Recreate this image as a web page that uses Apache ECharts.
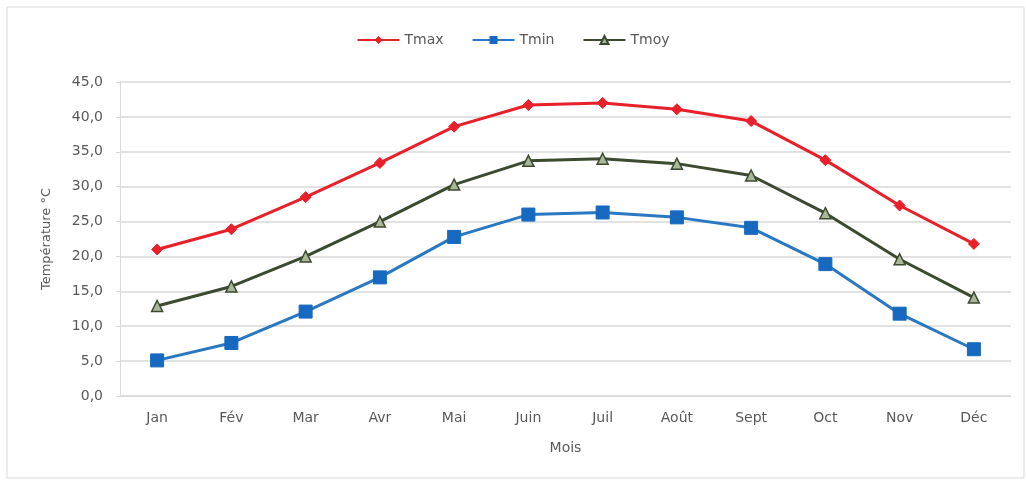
<!DOCTYPE html>
<html>
<head>
<meta charset="utf-8">
<script src="https://cdn.jsdelivr.net/npm/echarts@6/dist/echarts.min.js"></script>
<style>
  html, body { margin: 0; padding: 0; background: #ffffff; }
  #chart { width: 1026px; height: 485px; }
</style>
</head>
<body>
<div id="chart"></div>
<script>
// Monthly temperatures (°C)
const months = ['Jan', 'Fév', 'Mar', 'Avr', 'Mai', 'Juin', 'Juil', 'Août', 'Sept', 'Oct', 'Nov', 'Déc'];
const tmax = [21.0, 23.9, 28.5, 33.4, 38.6, 41.7, 42.0, 41.1, 39.4, 33.8, 27.3, 21.8];
const tmin = [5.1, 7.6, 12.1, 17.0, 22.8, 26.0, 26.3, 25.6, 24.1, 18.9, 11.8, 6.7];
const tmoy = [12.9, 15.7, 20.0, 25.0, 30.3, 33.7, 34.0, 33.3, 31.6, 26.2, 19.6, 14.1];

const chart = echarts.init(document.getElementById('chart'), null, { renderer: 'canvas' });

const font = '"DejaVu Sans", Verdana, sans-serif';
const labelColor = '#595959';

chart.setOption({
  animation: false,
  backgroundColor: '#ffffff',
  textStyle: { fontFamily: font },
  graphic: [{
    type: 'rect',
    shape: { x: 7, y: 7, width: 1017, height: 471 },
    style: { fill: 'none', stroke: '#d9d9d9', lineWidth: 1 },
    silent: true,
    z: -1
  }],
  legend: {
    top: 28,
    left: 'center',
    itemGap: 28,
    itemWidth: 42,
    itemHeight: 10,
    textStyle: { color: labelColor, fontSize: 14, fontFamily: font },
    data: ['Tmax', 'Tmin', 'Tmoy']
  },
  grid: { left: 120, right: 15, top: 82, bottom: 89, containLabel: false },
  xAxis: {
    type: 'category',
    data: months,
    boundaryGap: true,
    name: 'Mois',
    nameLocation: 'middle',
    nameGap: 45,
    nameTextStyle: { color: labelColor, fontSize: 14, fontFamily: font },
    axisLine: { show: true, lineStyle: { color: '#d9d9d9', width: 1 } },
    axisTick: { show: false },
    axisLabel: { color: labelColor, fontSize: 14, margin: 15, fontFamily: font }
  },
  yAxis: {
    type: 'value',
    min: 0,
    max: 45,
    interval: 5,
    name: 'Température °C',
    nameLocation: 'middle',
    nameRotate: 90,
    nameGap: 67,
    nameTextStyle: { color: labelColor, fontSize: 13, fontFamily: font },
    axisLine: { show: true, lineStyle: { color: '#d9d9d9', width: 1 } },
    axisTick: { show: true, length: 4, lineStyle: { color: '#d9d9d9' } },
    axisLabel: {
      color: labelColor,
      fontSize: 14,
      margin: 17,
      fontFamily: font,
      formatter: v => v.toFixed(1).replace('.', ',')
    },
    splitLine: { show: true, lineStyle: { color: '#d9d9d9', width: 1.5 } }
  },
  series: [
    {
      name: 'Tmax',
      type: 'line',
      data: tmax,
      symbol: 'diamond',
      symbolSize: 11,
      lineStyle: { color: '#e8202a', width: 3 },
      itemStyle: { color: '#e8202a', borderColor: '#e8202a' },
      z: 3
    },
    {
      name: 'Tmin',
      type: 'line',
      data: tmin,
      symbol: 'rect',
      symbolSize: 13,
      lineStyle: { color: '#2a78c2', width: 3 },
      itemStyle: { color: '#1769c0', borderColor: '#1769c0' },
      z: 3
    },
    {
      name: 'Tmoy',
      type: 'line',
      data: tmoy,
      symbol: 'triangle',
      symbolSize: 11,
      lineStyle: { color: '#3c4a30', width: 3 },
      itemStyle: { color: '#a9b79a', borderColor: '#3c4a30', borderWidth: 1.5 },
      z: 3
    }
  ]
});
</script>
</body>
</html>
